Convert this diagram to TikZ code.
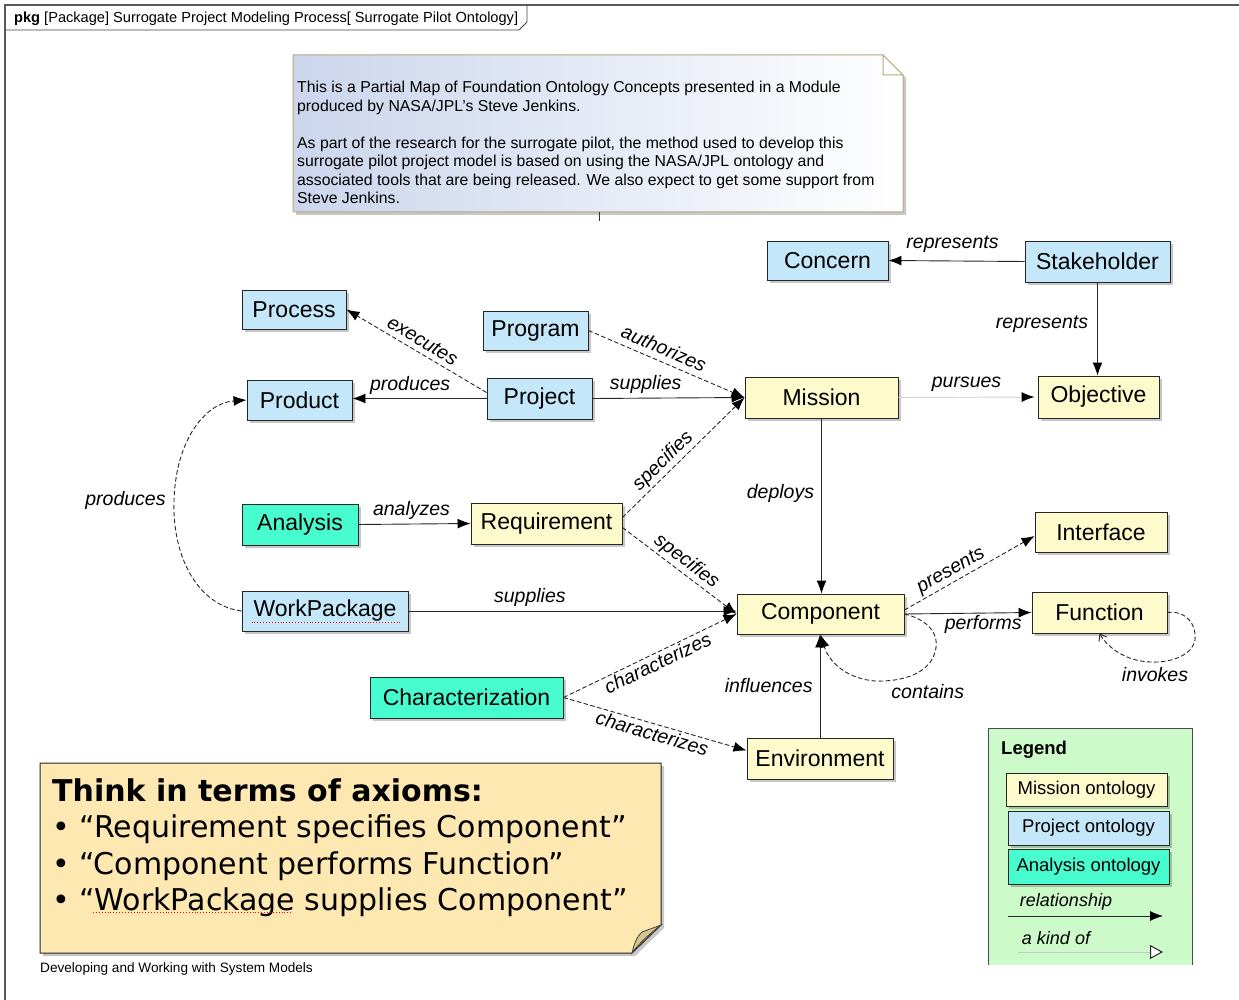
\documentclass[tikz,border=0pt]{standalone}
\usepackage{fontspec}
\setmainfont{Liberation Sans}
\newfontfamily\slidefont{DejaVu Sans}
\usetikzlibrary{arrows.meta,shadows,calc}

\definecolor{projblue}{HTML}{C4E8FA}
\definecolor{missyellow}{HTML}{FDFBCC}
\definecolor{anateal}{HTML}{47FDD0}
\definecolor{thinkfill}{HTML}{FDE8B2}
\definecolor{foldtan}{HTML}{D8C48E}
\definecolor{legendgreen}{HTML}{CCFAC8}
\definecolor{noteleft}{HTML}{CBD5EC}
\definecolor{notebrd}{HTML}{B4A97E}

\begin{document}
\begin{tikzpicture}[x=1pt,y=-1pt,
  shade box/.style={drop shadow={shadow xshift=3pt,shadow yshift=-3pt,opacity=0.22,fill=black}},
  box/.style={draw=black!85,line width=0.9pt,inner sep=0pt,
    font=\fontsize{23}{27}\selectfont,shade box},
  mbox/.style={box,fill=missyellow},
  pbox/.style={box,fill=projblue},
  abox/.style={box,fill=anateal},
  lbox/.style={box,font=\fontsize{18.5}{22}\selectfont},
  tip/.style={-{Latex[length=13pt,width=10pt,color=black]}},
  rel/.style={draw=black!85,line width=0.9pt,tip},
  dep/.style={rel,dash pattern=on 4.5pt off 2.5pt},
  lbl/.style={font=\itshape\fontsize{19.5}{22}\selectfont,inner sep=2pt},
]
\useasboundingbox (0,0) rectangle (1239,1000);

% package frame and its name tab
\draw[black!65,line width=1.3pt] (5,1000) -- (5,5) -- (1239,5);
\draw[black!75,line width=0.9pt] (5,30) -- (519,30) -- (527,22) -- (527,5);
\node[anchor=base west,inner sep=0pt,font=\fontsize{14.6}{17}\selectfont] (title) at (14,23)
  {\textbf{pkg} [Package] Surrogate Project Modeling Process[ Surrogate Pilot Ontology]};

% comment note with folded corner
\path[left color=noteleft,right color=white,draw=notebrd,line width=1pt,shade box]
  (293,55) -- (883,55) -- (903,75) -- (903,212) -- (293,212) -- cycle;
\filldraw[fill=white,draw=notebrd,line width=1pt] (883,55) -- (883,75) -- (903,75) -- cycle;
\draw[black!80,line width=0.8pt] (599,212) -- (599,221);
\node[anchor=north west,align=left,inner sep=0pt,font=\fontsize{15.8}{18.5}\selectfont] (noteText) at (297,81)
  {This is a Partial Map of Foundation Ontology Concepts presented in a Module\\
   produced by NASA/JPL's Steve Jenkins.\\[18.5pt]
   As part of the research for the surrogate pilot, the method used to develop this\\
   surrogate pilot project model is based on using the NASA/JPL ontology and\\
   associated tools that are being released. We also expect to get some support from\\
   Steve Jenkins.};

% concepts
\node[pbox,minimum width=121pt,minimum height=39pt] (Concern) at (827.5,260.5) {Concern};
\node[pbox,minimum width=145pt,minimum height=41pt] (Stakeholder) at (1097.5,261.5) {Stakeholder};
\node[pbox,minimum width=104pt,minimum height=39pt] (Process) at (294,309.5) {Process};
\node[pbox,minimum width=105pt,minimum height=39pt] (Program) at (535.5,330.5) {Program};
\node[pbox,minimum width=105pt,minimum height=40pt] (Product) at (299.5,400) {Product};
\node[pbox,minimum width=105pt,minimum height=41pt] (Project) at (539.5,398.5) {Project};
\node[mbox,minimum width=153pt,minimum height=41pt] (Mission) at (821.5,397.5) {Mission};
\node[mbox,minimum width=121pt,minimum height=42pt] (Objective) at (1098.5,397) {Objective};
\node[abox,minimum width=116pt,minimum height=41pt] (Analysis) at (300,524.5) {Analysis};
\node[mbox,minimum width=151pt,minimum height=41pt] (Requirement) at (546.5,523.5) {Requirement};
\node[mbox,minimum width=132pt,minimum height=40pt] (Interface) at (1101,532) {Interface};
\node[pbox,minimum width=166pt,minimum height=40pt] (WorkPackage) at (325,611) {WorkPackage};
\node[mbox,minimum width=167pt,minimum height=40pt] (Component) at (820.5,614) {Component};
\node[mbox,minimum width=135pt,minimum height=41pt] (Function) at (1099.5,612.5) {Function};
\node[abox,minimum width=193pt,minimum height=41pt] (Characterization) at (466.5,697.5) {Characterization};
\node[mbox,minimum width=146pt,minimum height=41pt] (Environment) at (820,758.5) {Environment};
\draw[red,dotted,line width=0.9pt] ($(WorkPackage.south west)+(10,-9)$) -- ($(WorkPackage.south east)+(-8,-9)$);

% relationships
\draw[rel] (Stakeholder.west) -- (Concern.east) node[lbl,above,midway,xshift=-4pt,yshift=6pt] {represents};
\draw[rel] (Stakeholder.south) -- (Stakeholder.south |- Objective.north)
  node[lbl,left=7pt,pos=0.45] {represents};
\draw[dep] (Program.east) -- (Mission.west) node[lbl,sloped,above=4pt,pos=0.45] {authorizes};
\draw[dep] ($(Project.west)+(0,-6)$) -- (Process.east) node[lbl,sloped,above=3pt,midway] {executes};
\draw[rel] (Project.west) -- (Project.west -| Product.east) node[lbl,above,pos=0.57,yshift=2pt] {produces};
\draw[rel] (Project.east) -- (Mission.west) node[lbl,above,pos=0.35,yshift=2pt] {supplies};
\draw[rel,draw=black!18] (Mission.east) -- ($(Objective.west)+(-3,0)$)
  node[lbl,above,pos=0.5,yshift=3pt] {pursues};
\draw[rel] (Mission.south) -- (Mission.south |- Component.north) node[lbl,left=5pt,pos=0.43] {deploys};
\draw[dep] ($(Requirement.east)+(0,-6)$) -- (Mission.west) node[lbl,sloped,above,pos=0.4] {specifies};
\draw[dep] ($(Requirement.east)+(0,4)$) -- (Component.west) node[lbl,sloped,above,midway] {specifies};
\draw[rel] (Analysis.east) -- (Requirement.west) node[lbl,above,midway,xshift=-3pt,yshift=2pt] {analyzes};
\draw[rel] (WorkPackage.east) -- (WorkPackage.east -| Component.west) node[lbl,above,pos=0.37,yshift=2pt] {supplies};
\draw[dep] (WorkPackage.west) .. controls (200,606) and (172,560) .. (174,500)
  node[lbl,left=6pt] {produces}
  .. controls (176,440) and (205,403) .. (Product.west);
\draw[dep] ($(Component.east)+(0,-4)$) -- ($(Interface.west)+(0,4)$) node[lbl,sloped,above,pos=0.4] {presents};
\draw[rel] (Component.east) -- (Function.west) node[lbl,below,pos=0.62] {performs};
\draw[dep] (Component.east) .. controls (930,620) and (940,636) .. (935,652)
  .. controls (930,672) and (905,682) .. (875,681) node[lbl,below right,xshift=14pt,yshift=-1pt] {contains}
  .. controls (850,679) and (830,665) .. (Component.south);
\draw[dep,-{Straight Barb[length=6pt,width=9pt]}] (Function.east) .. controls (1186,610) and (1197,625) .. (1195,640)
  .. controls (1192,655) and (1172,663) .. (1150,662) node[lbl,below=3pt,xshift=5pt] {invokes}
  .. controls (1126,661) and (1108,648) .. (Function.south);
\draw[dep] (Characterization.east) -- (Component.west) node[lbl,sloped,below,pos=0.52] {characterizes};
\draw[dep] (Characterization.east) -- ($(Environment.west)+(0,-8)$) node[lbl,sloped,below,midway] {characterizes};
\draw[rel] (Environment.north) -- (Environment.north |- Component.south) node[lbl,left=5pt,midway] {influences};

% axioms note with curled corner
\path[fill=thinkfill,draw=black!85,line width=1pt,shade box]
  (40,763) -- (661,763) -- (661,925) -- (632,953) -- (40,953) -- cycle;
\filldraw[fill=foldtan,draw=black!75,line width=0.8pt]
  (632,953) .. controls (634,944) and (637,936) .. (642,932) -- (661,925)
  .. controls (652,932) and (640,942) .. (632,953) -- cycle;
\node[anchor=north west,align=left,inner sep=0pt,font=\slidefont\fontsize{30}{36.5}\selectfont] (axioms) at (52,778)
  {\textbf{Think in terms of axioms:}\\
   • “Requirement specifies Component”\\
   • “Component performs Function”\\
   • “WorkPackage supplies Component”};
\draw[red,dotted,line width=0.9pt] (93,912) -- (291,912);
\node[anchor=base west,inner sep=0pt,font=\fontsize{13.6}{16}\selectfont] (footer) at (40,972)
  {Developing and Working with System Models};

% legend
\fill[legendgreen] (988,728) rectangle (1192,965);
\draw[black!70,line width=1pt] (988,965) -- (988,728) -- (1192,728) -- (1192,965);
\node[anchor=base west,inner sep=0pt,font=\bfseries\fontsize{18.5}{22}\selectfont] (legendTitle) at (1001,754) {Legend};
\node[lbox,fill=missyellow,minimum width=161pt,minimum height=33pt] (legMission) at (1086.5,789.5) {Mission ontology};
\node[lbox,fill=projblue,minimum width=161pt,minimum height=34pt] (legProject) at (1088.5,828) {Project ontology};
\node[lbox,fill=anateal,minimum width=161pt,minimum height=35pt] (legAnalysis) at (1088.5,866.5) {Analysis ontology};
\node[lbl,font=\itshape\fontsize{18}{21}\selectfont] (legRel) at (1066,902) {relationship};
\coordinate (relA) at (1008,916);
\coordinate (relB) at (1163,916);
\draw[rel] (relA) -- (relB);
\node[lbl,font=\itshape\fontsize{18}{21}\selectfont] (legKind) at (1056,938) {a kind of};
\coordinate (kindA) at (1018,952);
\coordinate (kindB) at (1163,952);
\draw[black!22,line width=0.8pt,-{Triangle[length=13pt,width=14pt,fill=white,color=black!85,line width=1pt]}] (kindA) -- (kindB);
\end{tikzpicture}
\end{document}
